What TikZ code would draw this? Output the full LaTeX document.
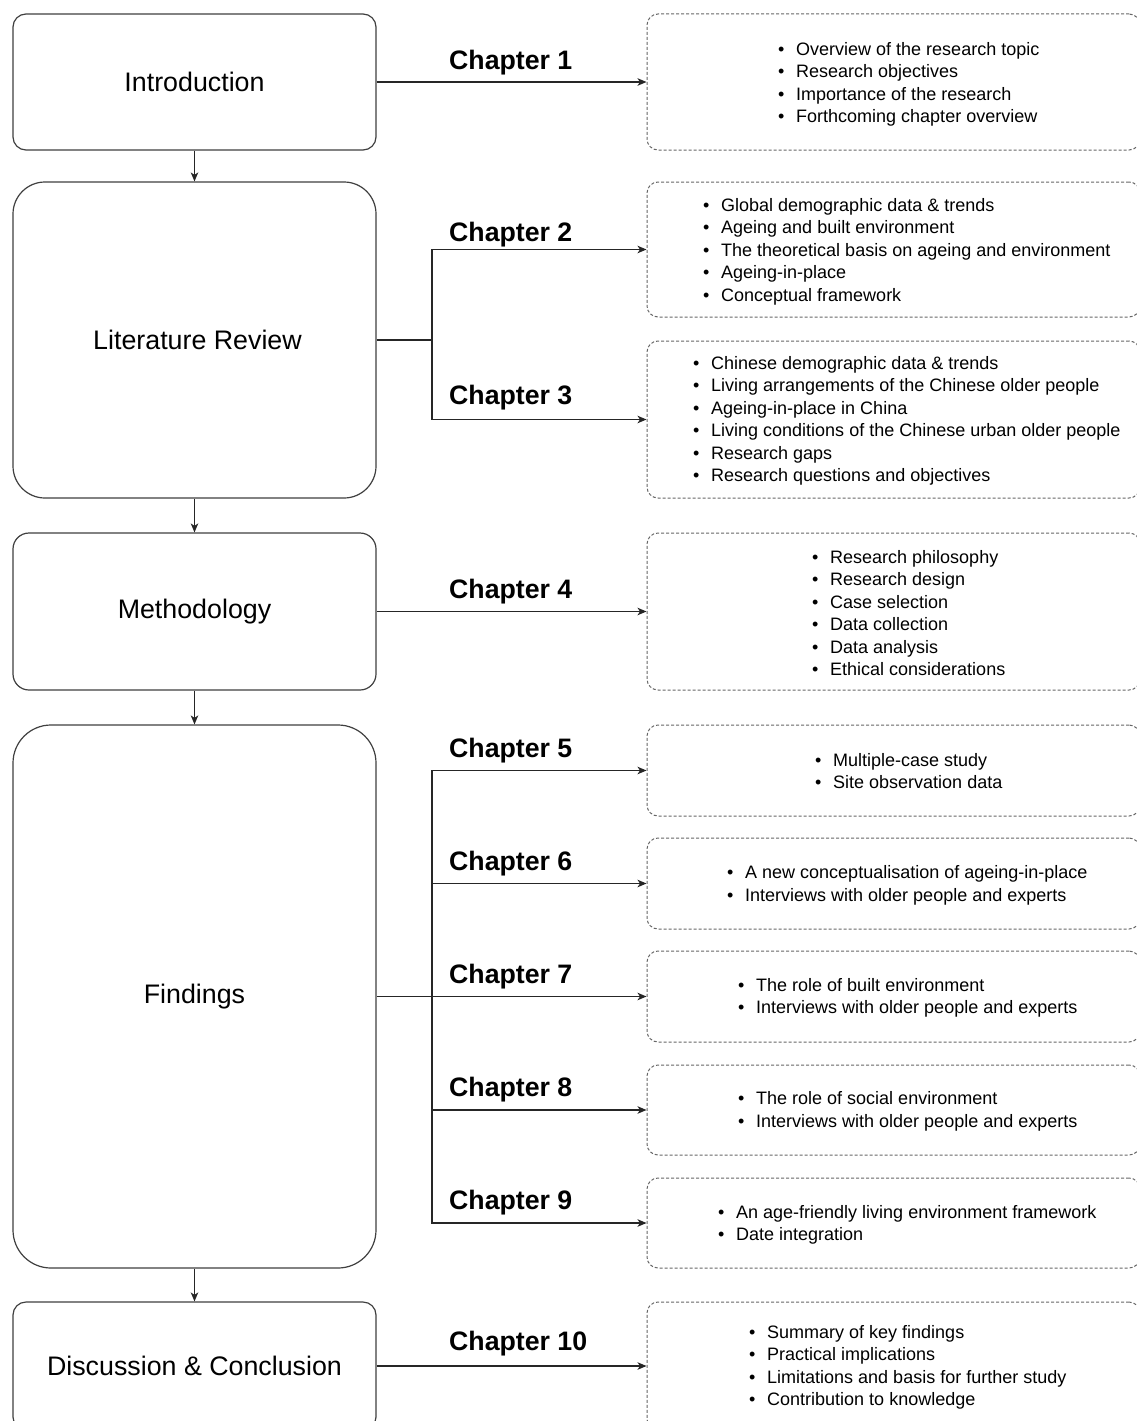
\documentclass[tikz,border=0pt]{standalone}
\usepackage{fontspec}
\setmainfont{Liberation Sans}
\usetikzlibrary{arrows.meta}

\newcommand{\bitem}[1]{\makebox[18pt][l]{\textbullet}#1}

\tikzset{
  stagebox/.style={draw=black!75, line width=1.2pt, fill=white, inner sep=0pt,
    minimum width=363pt, font=\fontsize{26.8}{30}\selectfont},
  topicbox/.style={draw=black!60, line width=1pt, dash pattern=on 3pt off 2pt,
    rounded corners=11pt, minimum width=493pt, inner sep=0pt},
  topiclist/.style={anchor=west, align=left, inner sep=0pt,
    font=\fontsize{18}{22.45}\selectfont},
  chlabel/.style={anchor=base west, inner sep=0pt,
    font=\fontsize{26.7}{30}\selectfont\bfseries},
  flow/.style={draw=black!85, line width=1.3pt},
  flowarrow/.style={flow, -{Stealth[length=9pt,width=7.5pt,inset=2.5pt]}}
}

\begin{document}
\begin{tikzpicture}[x=1pt,y=-1pt]
\clip (0,0) rectangle (1137,1421);
\fill[white] (0,0) rectangle (1137,1421);

% stages of the thesis
\node[stagebox, rounded corners=13pt, minimum height=136pt] (intro) at (194.5,82) {Introduction};
\node[stagebox, rounded corners=32pt, minimum height=316pt] (lit) at (194.5,340) {\hspace*{6pt}\raisebox{-7pt}{Literature Review}};
\node[stagebox, rounded corners=16pt, minimum height=157pt] (meth) at (194.5,611.5) {\raisebox{-2pt}{Methodology}};
\node[stagebox, rounded corners=38pt, minimum height=543pt] (find) at (194.5,996.5) {\raisebox{-2pt}{Findings}};
\node[stagebox, rounded corners=13pt, minimum height=128pt] (disc) at (194.5,1366) {Discussion \& Conclusion};

% chapter contents
\node[topicbox, minimum height=136pt] (b1) at (893.5,82) {};
\node[topicbox, minimum height=135pt] (b2) at (893.5,249.5) {};
\node[topicbox, minimum height=157pt] (b3) at (893.5,419.5) {};
\node[topicbox, minimum height=157pt] (b4) at (893.5,611.5) {};
\node[topicbox, minimum height=91pt] (b5) at (893.5,770.5) {};
\node[topicbox, minimum height=91pt] (b6) at (893.5,883.5) {};
\node[topicbox, minimum height=91pt] (b7) at (893.5,996.5) {};
\node[topicbox, minimum height=90pt] (b8) at (893.5,1110) {};
\node[topicbox, minimum height=90pt] (b9) at (893.5,1223) {};
\node[topicbox, minimum height=128pt] (b10) at (893.5,1366) {};

\node[topiclist] (l1) at (778,84.5) {\bitem{Overview of the research topic}\\\bitem{Research objectives}\\\bitem{Importance of the research}\\\bitem{Forthcoming chapter overview}};
\node[topiclist] (l2) at (703,251.5) {\bitem{Global demographic data \& trends}\\\bitem{Ageing and built environment}\\\bitem{The theoretical basis on ageing and environment}\\\bitem{Ageing-in-place}\\\bitem{Conceptual framework}};
\node[topiclist] (l3) at (693,421) {\bitem{Chinese demographic data \& trends}\\\bitem{Living arrangements of the Chinese older people}\\\bitem{Ageing-in-place in China}\\\bitem{Living conditions of the Chinese urban older people}\\\bitem{Research gaps}\\\bitem{Research questions and objectives}};
\node[topiclist] (l4) at (812,613) {\bitem{Research philosophy}\\\bitem{Research design}\\\bitem{Case selection}\\\bitem{Data collection}\\\bitem{Data analysis}\\\bitem{Ethical considerations}};
\node[topiclist] (l5) at (815,771) {\bitem{Multiple-case study}\\\bitem{Site observation data}};
\node[topiclist] (l6) at (727,885.5) {\bitem{A new conceptualisation of ageing-in-place}\\\bitem{Interviews with older people and experts}};
\node[topiclist] (l7) at (738,998) {\bitem{The role of built environment}\\\bitem{Interviews with older people and experts}};
\node[topiclist] (l8) at (738,1111.5) {\bitem{The role of social environment}\\\bitem{Interviews with older people and experts}};
\node[topiclist] (l9) at (718,1225) {\bitem{An age-friendly living environment framework}\\\bitem{Date integration}};
\node[topiclist] (l10) at (749,1367.5) {\bitem{Summary of key findings}\\\bitem{Practical implications}\\\bitem{Limitations and basis for further study}\\\bitem{Contribution to knowledge}};

% sequence of stages
\draw[flowarrow] (intro.south) -- (lit.north);
\draw[flowarrow] (lit.south) -- (meth.north);
\draw[flowarrow] (meth.south) -- (find.north);
\draw[flowarrow] (find.south) -- (disc.north);

% branch points
\coordinate (litfork) at (432,340);
\coordinate (findfork) at (432,996.5);

% stage to chapter connectors
\draw[flowarrow] (intro.east) -- (b1.west);
\draw[flow] (lit.east) -- (litfork);
\draw[flowarrow] (litfork) |- (b2.west);
\draw[flowarrow] (litfork) |- (b3.west);
\draw[flowarrow] (meth.east) -- (b4.west);
\draw[flow, line width=1.8pt] (find.east) -- (findfork);
\draw[flowarrow] (findfork) |- (b5.west);
\draw[flowarrow] (findfork) |- (b6.west);
\draw[flowarrow] (findfork) -- (b7.west);
\draw[flowarrow] (findfork) |- (b8.west);
\draw[flowarrow] (findfork) |- (b9.west);
\draw[flowarrow] (disc.east) -- (b10.west);

% chapter labels
\node[chlabel] (c1) at (449,69.5) {Chapter 1};
\node[chlabel] (c2) at (449,241.5) {Chapter 2};
\node[chlabel] (c3) at (449,404) {Chapter 3};
\node[chlabel] (c4) at (449,598.5) {Chapter 4};
\node[chlabel] (c5) at (449,757.5) {Chapter 5};
\node[chlabel] (c6) at (449,870.5) {Chapter 6};
\node[chlabel] (c7) at (449,983.5) {Chapter 7};
\node[chlabel] (c8) at (449,1096.5) {Chapter 8};
\node[chlabel] (c9) at (449,1209.5) {Chapter 9};
\node[chlabel] (c10) at (449,1350.5) {Chapter 10};
\end{tikzpicture}
\end{document}
